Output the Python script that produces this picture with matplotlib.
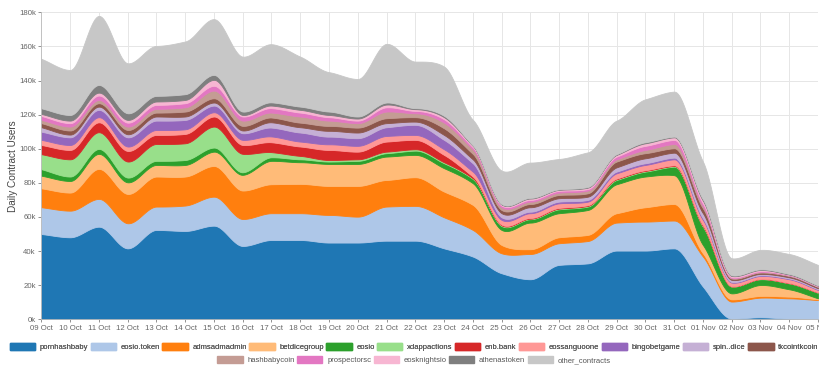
import numpy as np
import matplotlib
matplotlib.use("Agg")
import matplotlib.pyplot as plt
from matplotlib.patches import Patch

# tage und werte (in tausend nutzern)
days = ["09 Oct", "10 Oct", "11 Oct", "12 Oct", "13 Oct", "14 Oct", "15 Oct", "16 Oct",
        "17 Oct", "18 Oct", "19 Oct", "20 Oct", "21 Oct", "22 Oct", "23 Oct", "24 Oct",
        "25 Oct", "26 Oct", "27 Oct", "28 Oct", "29 Oct", "30 Oct", "31 Oct", "01 Nov",
        "02 Nov", "03 Nov", "04 Nov", "05 Nov"]

pornhashbaby = [50.0, 48.1, 54.3, 41.6, 52.4, 51.8, 54.9, 43.0, 46.5, 46.5, 45.0, 45.0, 46.1, 46.1,
                41.6, 36.8, 27.0, 23.5, 31.9, 32.8, 40.3, 40.3, 41.6, 19.2, 0.4, 1.2, 0.4, 0.2]
eosio_token = [15.7, 15.6, 16.3, 14.7, 13.7, 14.9, 17.0, 15.8, 15.7, 15.7, 16.2, 15.2, 20.0, 20.4,
               18.2, 15.6, 11.7, 14.8, 12.7, 13.1, 16.4, 17.0, 16.3, 17.6, 10.0, 11.5, 11.9, 11.1]
admsadmadmin = [11.1, 10.6, 17.6, 17.2, 17.6, 17.0, 18.0, 16.7, 17.0, 17.2, 17.0, 18.0, 15.6, 16.8,
                15.1, 14.7, 4.9, 2.8, 3.5, 3.6, 5.5, 8.4, 9.7, 1.9, 1.3, 1.0, 1.0, 0.4]
betdicegroup = [7.4, 6.8, 8.8, 6.8, 6.8, 6.8, 8.4, 9.2, 13.7, 12.7, 12.9, 12.9, 13.7, 13.1,
                13.7, 12.7, 8.8, 15.6, 14.1, 14.6, 17.0, 18.0, 16.9, 4.9, 3.5, 6.4, 4.3, 0.6]
eosio = [3.8, 2.6, 2.9, 2.8, 2.4, 2.9, 2.4, 1.5, 2.1, 1.7, 1.4, 1.8, 2.0, 2.5,
         2.9, 2.5, 2.3, 2.0, 2.3, 2.0, 2.5, 2.9, 5.0, 10.7, 4.0, 3.4, 3.5, 3.3]
xdappactions = [8.8, 10.1, 9.8, 9.4, 9.9, 9.8, 12.3, 10.8, 3.0, 2.0, 0.9, 0.9, 0.9, 0.8,
                0.6, 0.4, 0.4, 0.3, 0.4, 0.4, 0.4, 0.4, 0.4, 0.4, 0.1, 0.1, 0.1, 0.1]
enb_bank = [5.4, 5.5, 5.8, 6.2, 5.3, 5.5, 5.9, 5.2, 5.8, 5.5, 5.9, 4.5, 5.9, 5.5,
            4.3, 1.0, 0.4, 0.4, 0.4, 0.4, 0.4, 0.4, 0.4, 0.4, 0.1, 0.1, 0.1, 0.1]
eossanguoone = [3.0, 2.9, 3.0, 2.6, 2.9, 2.7, 2.5, 3.0, 3.4, 2.9, 3.3, 3.4, 3.3, 2.9,
                3.3, 2.9, 2.8, 2.8, 2.7, 2.1, 3.1, 3.1, 3.5, 3.2, 2.1, 1.7, 2.2, 1.4]
bingobetgame = [4.8, 4.5, 4.3, 5.4, 5.5, 5.5, 3.9, 3.9, 5.2, 5.3, 4.5, 4.5, 5.1, 5.9,
                5.5, 4.9, 1.5, 0.9, 1.0, 1.0, 1.0, 1.0, 1.0, 0.9, 0.4, 0.4, 0.4, 0.4]
spin_dice = [2.6, 1.6, 1.9, 1.8, 2.4, 2.0, 1.8, 1.6, 3.1, 3.1, 3.4, 3.3, 2.4, 1.9,
             2.9, 2.3, 2.4, 2.6, 2.0, 1.9, 2.5, 2.9, 2.9, 3.0, 1.2, 0.8, 0.7, 0.6]
tkcointkcoin = [2.4, 2.4, 2.0, 2.5, 2.3, 2.9, 2.5, 2.7, 2.8, 2.7, 2.9, 2.9, 2.9, 2.6,
                3.9, 3.2, 1.9, 1.9, 1.9, 2.0, 3.4, 3.0, 2.6, 2.9, 0.8, 0.8, 0.8, 0.8]
hashbabycoin = [1.9, 2.3, 1.9, 2.0, 2.2, 2.5, 4.5, 3.1, 2.9, 3.6, 3.1, 2.6, 3.9, 2.3,
                3.3, 2.7, 1.6, 1.4, 1.4, 1.6, 1.3, 1.9, 2.5, 1.4, 0.4, 0.4, 0.3, 0.2]
prospectorsc = [2.3, 2.0, 2.6, 2.3, 2.3, 2.4, 2.8, 2.4, 2.6, 2.3, 2.0, 1.5, 2.5, 1.4,
                2.0, 1.2, 1.0, 1.0, 1.0, 0.9, 1.6, 2.4, 2.4, 1.5, 0.4, 0.4, 0.3, 0.2]
eosknightsio = [1.2, 1.5, 1.7, 1.6, 2.0, 1.9, 3.5, 0.9, 1.5, 1.6, 1.3, 1.2, 1.6, 1.0,
                1.2, 0.8, 0.6, 0.8, 0.6, 0.8, 1.0, 1.5, 1.5, 1.6, 0.7, 0.7, 0.2, 0.2]
athenastoken = [3.3, 3.3, 4.5, 3.9, 3.3, 3.4, 2.9, 2.0, 1.9, 1.9, 2.0, 1.2, 1.2, 0.6,
                0.8, 0.3, 0.3, 0.4, 0.3, 0.4, 0.4, 0.6, 0.4, 0.8, 0.4, 0.4, 0.4, 0.3]
other_contracts = [29.0, 26.4, 40.5, 29.3, 29.3, 30.9, 32.7, 32.2, 34.1, 29.3, 23.1, 22.0, 34.4, 27.3,
                   28.9, 15.0, 19.6, 20.7, 17.8, 20.3, 19.7, 25.2, 26.4, 22.1, 10.0, 11.4, 11.7, 12.0]

names = ["pornhashbaby", "eosio.token", "admsadmadmin", "betdicegroup", "eosio", "xdappactions",
         "enb.bank", "eossanguoone", "bingobetgame", "spin..dice", "tkcointkcoin", "hashbabycoin",
         "prospectorsc", "eosknightsio", "athenastoken", "other_contracts"]
series = [pornhashbaby, eosio_token, admsadmadmin, betdicegroup, eosio, xdappactions, enb_bank,
          eossanguoone, bingobetgame, spin_dice, tkcointkcoin, hashbabycoin, prospectorsc,
          eosknightsio, athenastoken, other_contracts]
colors = ["#1f77b4", "#aec7e8", "#ff7f0e", "#ffbb78", "#2ca02c", "#98df8a", "#d62728", "#ff9896",
          "#9467bd", "#c5b0d5", "#8c564b", "#c49c94", "#e377c2", "#f7b6d2", "#7f7f7f", "#c7c7c7"]


def monotone(x, y, xn):
    # monotone kubische interpolation (fritsch-carlson), damit die flaechen glatt werden
    y = np.asarray(y, float)
    h = np.diff(x)
    d = np.diff(y) / h
    m = np.zeros_like(y)
    m[0], m[-1] = d[0], d[-1]
    for k in range(1, len(y) - 1):
        if d[k - 1] * d[k] > 0:
            w1 = 2 * h[k] + h[k - 1]
            w2 = h[k] + 2 * h[k - 1]
            m[k] = (w1 + w2) / (w1 / d[k - 1] + w2 / d[k])
    i = np.clip(np.searchsorted(x, xn) - 1, 0, len(x) - 2)
    t = (xn - x[i]) / h[i]
    h00 = 2 * t**3 - 3 * t**2 + 1
    h10 = t**3 - 2 * t**2 + t
    h01 = -2 * t**3 + 3 * t**2
    h11 = t**3 - t**2
    return h00 * y[i] + h10 * h[i] * m[i] + h01 * y[i + 1] + h11 * h[i] * m[i + 1]


plt.rcParams["font.family"] = ["Liberation Sans", "DejaVu Sans"]
fig = plt.figure(figsize=(8.2, 3.68), dpi=100)
ax = fig.add_axes([0.0505, 0.1323, 0.947, 0.8343])

x = np.arange(len(days))
xf = np.linspace(0, len(days) - 1, 600)
smooth = [np.maximum(monotone(x, s, xf), 0) for s in series]
ax.stackplot(xf, smooth, colors=colors, edgecolor="face", linewidth=0.6)

ax.set_xlim(0, len(days) - 1)
ax.set_ylim(0, 180)
ax.set_xticks(x)
ax.set_xticklabels(days)
ax.set_yticks(np.arange(0, 181, 20))
ax.set_yticklabels([f"{v}k" for v in range(0, 181, 20)])
ax.tick_params(labelsize=5.6, colors="#666666", length=2, width=0.5, pad=2)
ax.grid(True, color="#e6e6e6", linewidth=0.7)
ax.set_axisbelow(True)
for s in ["top", "right"]:
    ax.spines[s].set_visible(False)
for s in ["left", "bottom"]:
    ax.spines[s].set_color("#bbbbbb")
    ax.spines[s].set_linewidth(0.6)
ax.set_ylabel("Daily Contract Users", fontsize=7.2, color="#444444", labelpad=1)

handles = [Patch(facecolor=c, edgecolor=c) for c in colors]
leg_kw = dict(frameon=False, fontsize=5.5, handlelength=3.3, handleheight=1.0,
              handletextpad=0.6, columnspacing=0.35, borderpad=0, labelcolor="#555555")
leg1 = fig.legend(handles[:11], names[:11], ncol=11, loc="center",
                  bbox_to_anchor=(0.505, 0.057), **leg_kw)
fig.add_artist(leg1)
fig.legend(handles[11:], names[11:], ncol=5, loc="center",
           bbox_to_anchor=(0.505, 0.021), **leg_kw)

fig.savefig("out.png", dpi=100)
